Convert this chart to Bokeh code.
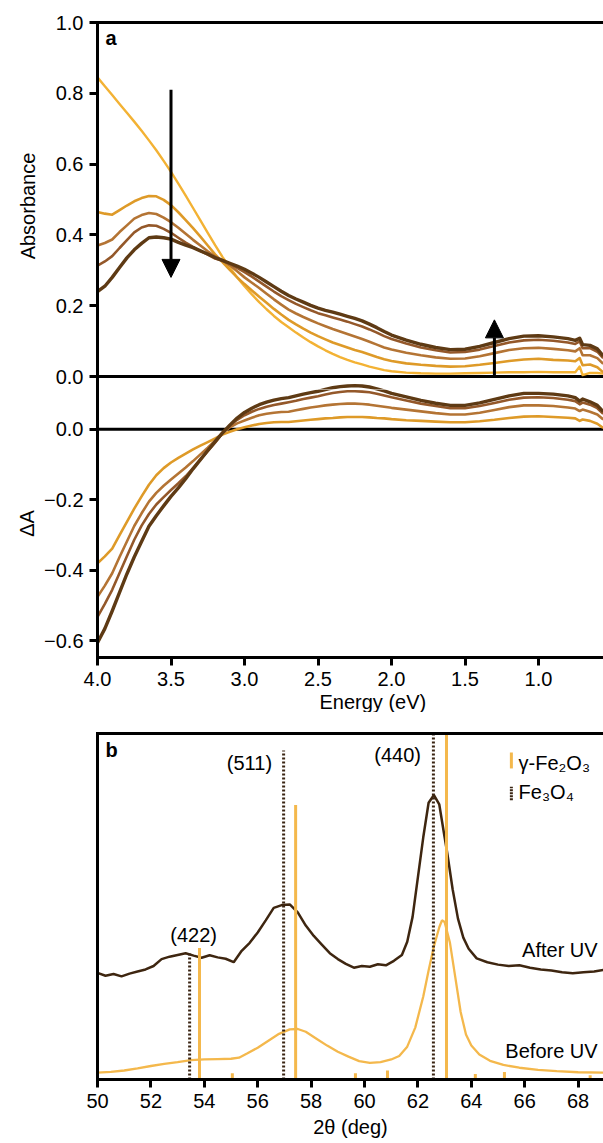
import numpy as np
from bokeh.plotting import figure
from bokeh.models import (Range1d, LinearAxis, FixedTicker, Span, Label, Arrow,
                          NormalHead, PrintfTickFormatter, Title)
from bokeh.layouts import column
from bokeh.embed import file_html
from bokeh.resources import INLINE

FONT = "Liberation Sans"
FS = "20px"

# ---------------- panel a data (UV-vis) ----------------
energy = [4.00, 3.95, 3.90, 3.85, 3.80, 3.75, 3.70, 3.65, 3.60, 3.55,
          3.50, 3.45, 3.40, 3.35, 3.30, 3.25, 3.20, 3.15, 3.10, 3.05,
          3.00, 2.95, 2.90, 2.85, 2.80, 2.75, 2.70, 2.65, 2.60, 2.55,
          2.50, 2.45, 2.40, 2.35, 2.30, 2.25, 2.20, 2.15, 2.10, 2.05,
          2.00, 1.90, 1.80, 1.70, 1.60, 1.50, 1.40, 1.30, 1.20, 1.10,
          1.00, 0.90, 0.80, 0.75, 0.72, 0.70, 0.65, 0.60, 0.56]

abs_initial = [0.845, 0.820, 0.795, 0.770, 0.745, 0.720, 0.694, 0.667, 0.639, 0.609,
               0.578, 0.545, 0.511, 0.476, 0.441, 0.406, 0.371, 0.338, 0.308, 0.280,
               0.255, 0.232, 0.210, 0.190, 0.171, 0.154, 0.139, 0.124, 0.110, 0.097,
               0.085, 0.074, 0.064, 0.055, 0.047, 0.040, 0.034, 0.028, 0.023, 0.018,
               0.015, 0.011, 0.009, 0.008, 0.008, 0.009, 0.010, 0.011, 0.012, 0.012,
               0.013, 0.012, 0.012, 0.012, 0.028, 0.004, 0.010, 0.010, 0.008]

dA_1 = [-0.380, -0.360, -0.338, -0.300, -0.262, -0.225, -0.190, -0.157, -0.130, -0.110,
        -0.094, -0.081, -0.069, -0.057, -0.046, -0.036, -0.026, -0.015, -0.007, 0.000,
        0.006, 0.011, 0.015, 0.018, 0.020, 0.021, 0.021, 0.023, 0.025, 0.027,
        0.029, 0.031, 0.032, 0.034, 0.035, 0.035, 0.035, 0.034, 0.032, 0.031,
        0.029, 0.026, 0.024, 0.022, 0.020, 0.020, 0.023, 0.027, 0.032, 0.036,
        0.037, 0.035, 0.033, 0.031, 0.024, 0.028, 0.024, 0.016, 0.004]

dA_2 = [-0.475, -0.443, -0.408, -0.362, -0.318, -0.274, -0.238, -0.205, -0.180, -0.160,
        -0.142, -0.125, -0.108, -0.090, -0.071, -0.052, -0.032, -0.010, 0.006, 0.017,
        0.025, 0.033, 0.040, 0.044, 0.047, 0.049, 0.050, 0.054, 0.058, 0.062,
        0.065, 0.068, 0.070, 0.072, 0.073, 0.073, 0.072, 0.070, 0.067, 0.064,
        0.061, 0.056, 0.051, 0.046, 0.042, 0.042, 0.047, 0.055, 0.063, 0.068,
        0.068, 0.066, 0.062, 0.059, 0.052, 0.056, 0.050, 0.042, 0.028]

dA_3 = [-0.532, -0.495, -0.455, -0.407, -0.360, -0.313, -0.273, -0.240, -0.213, -0.192,
        -0.172, -0.153, -0.133, -0.110, -0.086, -0.062, -0.038, -0.011, 0.010, 0.027,
        0.040, 0.050, 0.058, 0.064, 0.069, 0.073, 0.077, 0.081, 0.086, 0.090,
        0.094, 0.099, 0.103, 0.106, 0.108, 0.108, 0.107, 0.105, 0.101, 0.096,
        0.091, 0.082, 0.073, 0.066, 0.060, 0.060, 0.066, 0.075, 0.084, 0.090,
        0.091, 0.089, 0.084, 0.080, 0.071, 0.076, 0.070, 0.060, 0.044]

dA_4 = [-0.605, -0.565, -0.515, -0.462, -0.410, -0.362, -0.318, -0.275, -0.245, -0.217,
        -0.190, -0.166, -0.140, -0.112, -0.086, -0.060, -0.035, -0.010, 0.012, 0.032,
        0.048, 0.060, 0.070, 0.077, 0.083, 0.087, 0.090, 0.095, 0.100, 0.104,
        0.108, 0.113, 0.118, 0.121, 0.123, 0.124, 0.123, 0.120, 0.115, 0.109,
        0.102, 0.092, 0.082, 0.074, 0.068, 0.068, 0.075, 0.085, 0.095, 0.102,
        0.102, 0.100, 0.095, 0.090, 0.080, 0.086, 0.078, 0.068, 0.050]

delta_series = [dA_1, dA_2, dA_3, dA_4]
abs_series = [abs_initial] + [list(np.array(abs_initial) + np.array(d)) for d in delta_series]

abs_colors = ["#F3B234", "#DE9A28", "#B47434", "#94582A", "#5E3A14"]
abs_widths = [2.4, 2.6, 2.6, 2.6, 3.4]

abs_ticks = [0.0, 0.2, 0.4, 0.6, 0.8, 1.0]
dA_ticks = [0.0, -0.2, -0.4, -0.6]
dA_tick_labels = ["0.0", "\u22120.2", "\u22120.4", "\u22120.6"]
energy_ticks = [4.0, 3.5, 3.0, 2.5, 2.0, 1.5, 1.0]

# ---------------- panel b data (XRD) ----------------
theta_after = [50.0, 50.3, 50.6, 50.9, 51.2, 51.5, 51.8, 52.1, 52.4, 52.7,
               53.0, 53.3, 53.6, 53.9, 54.2, 54.5, 54.8, 55.1, 55.4, 55.7,
               56.0, 56.3, 56.6, 56.9, 57.2, 57.5, 57.8, 58.1, 58.4, 58.7,
               59.0, 59.3, 59.6, 59.9, 60.2, 60.5, 60.8, 61.1, 61.4, 61.6,
               61.8, 62.0, 62.2, 62.4, 62.6, 62.8, 63.0, 63.1, 63.3, 63.5,
               63.7, 63.9, 64.2, 64.6, 65.0, 65.4, 65.8, 66.2, 66.6, 67.0,
               67.4, 67.8, 68.2, 68.6, 68.95]
int_after = [30.8, 30.0, 30.5, 29.8, 30.6, 31.2, 31.8, 32.8, 34.8, 35.5,
             36.0, 36.5, 35.8, 35.2, 35.9, 35.3, 34.9, 33.9, 37.2, 39.5,
             42.5, 46.0, 49.6, 50.4, 50.6, 48.3, 44.5, 41.5, 39.0, 36.5,
             34.8, 33.4, 32.3, 32.8, 32.6, 33.3, 33.0, 34.3, 36.0, 39.8,
             47.0, 58.5, 70.0, 80.0, 82.2, 79.5, 70.0, 65.4, 55.0, 46.5,
             41.0, 37.8, 35.0, 33.9, 33.2, 32.8, 33.0, 32.3, 31.8, 31.5,
             31.0, 30.7, 31.0, 31.2, 31.7]

theta_before = [50.0, 50.5, 51.0, 51.5, 52.0, 52.5, 53.0, 53.5, 54.0, 54.5,
                55.0, 55.3, 55.6, 56.0, 56.4, 56.8, 57.2, 57.5, 57.8, 58.2,
                58.6, 59.0, 59.4, 59.8, 60.2, 60.6, 61.0, 61.3, 61.6, 61.9,
                62.2, 62.4, 62.6, 62.8, 62.9, 63.0, 63.2, 63.4, 63.6, 63.8,
                64.0, 64.3, 64.7, 65.2, 65.8, 66.5, 67.2, 68.0, 68.95]
int_before = [2.0, 2.2, 2.6, 3.2, 3.9, 4.5, 5.0, 5.6, 5.8, 5.9,
              6.0, 6.3, 7.5, 9.2, 11.2, 13.2, 14.5, 14.6, 13.8, 11.8,
              9.8, 8.0, 6.6, 5.3, 4.8, 5.0, 5.8, 6.8, 9.5, 15.0,
              24.0, 31.5, 38.5, 44.0, 46.0, 45.5, 39.5, 29.5, 19.5, 13.0,
              9.8, 7.2, 5.4, 4.2, 3.4, 2.8, 2.4, 2.1, 2.0]

ref_gamma_pos = [53.82, 55.05, 57.42, 59.66, 60.86, 63.07, 64.15, 65.24, 68.45]
ref_gamma_int = [38.0, 1.8, 79.3, 1.8, 2.6, 100.0, 1.6, 2.2, 1.2]
ref_fe3o4_pos = [53.45, 56.97, 62.58]
ref_fe3o4_int = [37.0, 95.1, 100.0]
hkl_labels = ["(422)", "(511)", "(440)"]
theta_ticks = [50, 52, 54, 56, 58, 60, 62, 64, 66, 68]

C_BEFORE = "#F4B84C"
C_AFTER = "#3E2610"
C_DOT = "#3A2412"


def style_axis(ax):
    ax.axis_line_width = 3
    ax.axis_line_color = "black"
    ax.axis_line_cap = "square"
    ax.major_tick_line_width = 3
    ax.major_tick_line_color = "black"
    ax.major_tick_out = 8
    ax.major_tick_in = 0
    ax.minor_tick_line_color = None
    ax.major_label_text_font = FONT
    ax.major_label_text_font_size = FS
    ax.major_label_text_color = "black"
    ax.major_label_standoff = 6
    ax.axis_label_text_font = FONT
    ax.axis_label_text_font_size = FS
    ax.axis_label_text_font_style = "normal"
    ax.axis_label_text_color = "black"


def top_border(p):
    ax = LinearAxis(ticker=FixedTicker(ticks=[]))
    ax.axis_line_width = 3
    ax.axis_line_color = "black"
    ax.axis_line_cap = "square"
    ax.major_tick_line_color = None
    ax.minor_tick_line_color = None
    ax.major_label_text_font_size = "0px"
    p.add_layout(ax, "above")


def lab(**kw):
    kw.setdefault("text_font", FONT)
    kw.setdefault("text_font_size", FS)
    kw.setdefault("text_color", "black")
    kw.setdefault("text_baseline", "middle")
    return Label(**kw)


def clean(p):
    p.outline_line_color = None
    p.xgrid.visible = False
    p.ygrid.visible = False


# ================= panel a: absorbance (upper) =================
PX_PER_UNIT = 354.0
SEAM_PX = 13                       # the two sub-panels meet 13 px below A = 0
A_SEAM = -SEAM_PX / PX_PER_UNIT
DA_ZERO_BELOW_A_ZERO = 53 / PX_PER_UNIT
UPPER_FRAME = 354 + SEAM_PX
LOWER_FRAME = 636 - UPPER_FRAME
x_energy = Range1d(4.0, 0.558)

pa1 = figure(width=603, height=22 + UPPER_FRAME, x_range=x_energy,
             y_range=Range1d(A_SEAM, 1.0), x_axis_location=None,
             output_backend="svg", toolbar_location=None,
             min_border_left=97, min_border_right=0,
             min_border_top=22, min_border_bottom=0)
pa1.extra_y_ranges = {"dA": Range1d(A_SEAM + DA_ZERO_BELOW_A_ZERO, 1.0 + DA_ZERO_BELOW_A_ZERO)}
clean(pa1)
ya1 = pa1.left[0]
style_axis(ya1)
ya1.ticker = FixedTicker(ticks=abs_ticks)
ya1.formatter = PrintfTickFormatter(format="%.1f")
ya1.axis_label = "Absorbance"
ya1.axis_label_standoff = 14
top_border(pa1)

pa1.add_layout(Span(location=0.0, dimension="width", line_color="black",
                    line_width=3, level="underlay"))
for ys, c, w in zip(abs_series, abs_colors, abs_widths):
    pa1.line(energy, ys, line_color=c, line_width=w, line_join="round")
for ys, c, w in zip(delta_series, abs_colors[1:], abs_widths[1:]):
    pa1.line(energy, ys, line_color=c, line_width=w, line_join="round",
             y_range_name="dA")

pa1.add_layout(Arrow(end=NormalHead(size=18, fill_color="black", line_color="black"),
                     x_start=3.5, y_start=0.81, x_end=3.5, y_end=0.28,
                     line_width=3, line_color="black"))
pa1.add_layout(Arrow(end=NormalHead(size=18, fill_color="black", line_color="black"),
                     x_start=1.3, y_start=0.0, x_end=1.3, y_end=0.16,
                     line_width=3, line_color="black"))
pa1.add_layout(lab(x=3.946, y=0.955, text="a", text_align="left",
                   text_font_style="bold"))

# ================= panel a: difference spectra (lower) =================
DA_TOP = A_SEAM + DA_ZERO_BELOW_A_ZERO
DA_BOTTOM = DA_TOP - LOWER_FRAME / PX_PER_UNIT
pa2 = figure(width=603, height=LOWER_FRAME + 54, x_range=x_energy,
             y_range=Range1d(DA_BOTTOM, DA_TOP),
             output_backend="svg", toolbar_location=None,
             min_border_left=97, min_border_right=0,
             min_border_top=0, min_border_bottom=54)
clean(pa2)
ya2 = pa2.left[0]
style_axis(ya2)
ya2.ticker = FixedTicker(ticks=dA_ticks)
ya2.major_label_overrides = {t: l for t, l in zip(dA_ticks, dA_tick_labels)}
ya2.axis_label = "\u0394A"
ya2.axis_label_standoff = 3

xa2 = pa2.below[0]
style_axis(xa2)
xa2.ticker = FixedTicker(ticks=energy_ticks)
xa2.formatter = PrintfTickFormatter(format="%.1f")
pa2.add_layout(Title(text="Energy (eV)", align="left", offset=222, standoff=0,
                     text_font=FONT, text_font_size=FS, text_font_style="normal",
                     text_color="black"), "below")

pa2.add_layout(Span(location=0.0, dimension="width", line_color="black",
                    line_width=3, level="underlay"))
for ys, c, w in zip(delta_series, abs_colors[1:], abs_widths[1:]):
    pa2.line(energy, ys, line_color=c, line_width=w, line_join="round")

# ================= panel b =================
pb = figure(width=603, height=428, x_range=Range1d(50, 68.95),
            y_range=Range1d(0, 100), output_backend="svg",
            toolbar_location=None, min_border_left=97, min_border_right=0,
            min_border_top=21, min_border_bottom=60)
clean(pb)

bx = pb.below[0]
style_axis(bx)
bx.ticker = FixedTicker(ticks=theta_ticks)
bx.axis_label = "2\u03b8 (deg)"
bx.axis_label_standoff = 5

by = pb.left[0]
style_axis(by)
by.ticker = FixedTicker(ticks=[])
by.major_tick_line_color = None

top_border(pb)

pb.line(theta_before, int_before, line_color=C_BEFORE, line_width=2.3)
pb.line(theta_after, int_after, line_color=C_AFTER, line_width=2.5)

pb.segment(x0=ref_gamma_pos, y0=[0] * len(ref_gamma_pos), x1=ref_gamma_pos,
           y1=ref_gamma_int, line_color=C_BEFORE, line_width=3)
pb.segment(x0=ref_fe3o4_pos, y0=[0] * len(ref_fe3o4_pos), x1=ref_fe3o4_pos,
           y1=ref_fe3o4_int, line_color=C_DOT, line_width=3, line_dash="2 2")

hkl_x = [53.6, 55.69, 61.24]
hkl_y = [41.8, 91.4, 93.7]
for tx, ty, tt in zip(hkl_x, hkl_y, hkl_labels):
    pb.add_layout(lab(x=tx, y=ty, text=tt, text_align="center"))

pb.add_layout(lab(x=68.73, y=37.5, text="After UV", text_align="right"))
pb.add_layout(lab(x=68.73, y=8.1, text="Before UV", text_align="right"))
pb.add_layout(lab(x=50.3, y=95.1, text="b", text_align="left",
                  text_font_style="bold"))

# legend
LEG_X = 65.5
pb.segment(x0=[LEG_X], y0=[89.9], x1=[LEG_X], y1=[94.5], line_color=C_BEFORE, line_width=3)
pb.segment(x0=[LEG_X], y0=[80.7], x1=[LEG_X], y1=[84.6], line_color=C_DOT,
           line_width=3, line_dash="2 1")
pb.add_layout(lab(x=65.77, y=91.6, text="\u03b3-Fe\u2082O\u2083", text_align="left"))
pb.add_layout(lab(x=65.77, y=83.2, text="Fe\u2083O\u2084", text_align="left"))

layout = column(pa1, pa2, pb)
open("out.html", "w").write(file_html(layout, INLINE))
